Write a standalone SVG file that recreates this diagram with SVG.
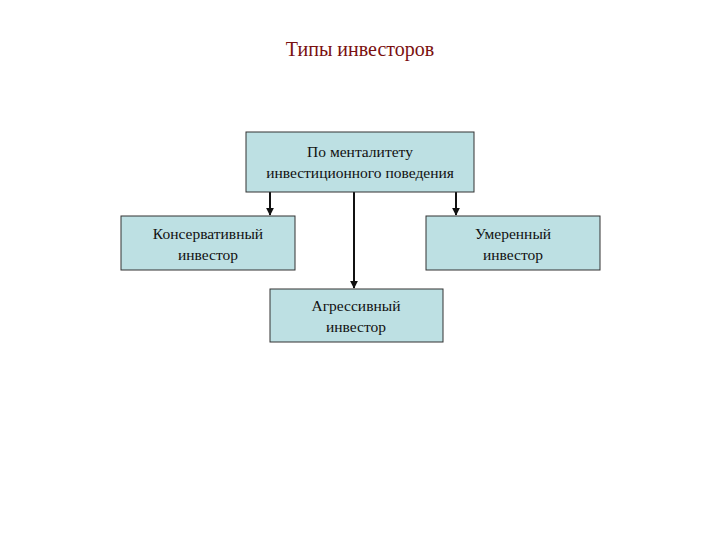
<svg xmlns="http://www.w3.org/2000/svg" width="720" height="540" viewBox="0 0 720 540">
<style>
.b{fill:#bde0e3;stroke:#333;stroke-width:1}
.t{font-family:"Liberation Serif",serif;font-size:15.5px;fill:#111;text-anchor:middle}
.c{stroke:#111;stroke-width:2;fill:none;marker-end:url(#a)}
</style>
<defs><marker id="a" viewBox="0 0 10 10" refX="9" refY="5" markerWidth="4" markerHeight="4" orient="auto"><path d="M0,0L10,5L0,10z" fill="#111"/></marker></defs>
<rect width="720" height="540" fill="#fff"/>
<text x="360" y="56" style="font-family:'Liberation Serif',serif;font-size:20px;fill:#7a1010;text-anchor:middle">Типы инвесторов</text>
<g id="connectors">
<line class="c" x1="270" y1="192" x2="270" y2="215"/>
<line class="c" x1="354" y1="192" x2="354" y2="288"/>
<line class="c" x1="456" y1="192" x2="456" y2="215"/>
</g>
<g id="top"><rect class="b" x="246" y="132" width="228" height="60"/><text class="t" x="360" y="157">По менталитету</text><text class="t" x="360" y="178">инвестиционного поведения</text></g>
<g id="left"><rect class="b" x="121" y="216" width="174" height="54"/><text class="t" x="208" y="239">Консервативный</text><text class="t" x="208" y="260">инвестор</text></g>
<g id="right"><rect class="b" x="426" y="216" width="174" height="54"/><text class="t" x="513" y="239">Умеренный</text><text class="t" x="513" y="260">инвестор</text></g>
<g id="bottom"><rect class="b" x="270" y="289" width="173" height="53"/><text class="t" x="356" y="311">Агрессивный</text><text class="t" x="356" y="332">инвестор</text></g>
</svg>
